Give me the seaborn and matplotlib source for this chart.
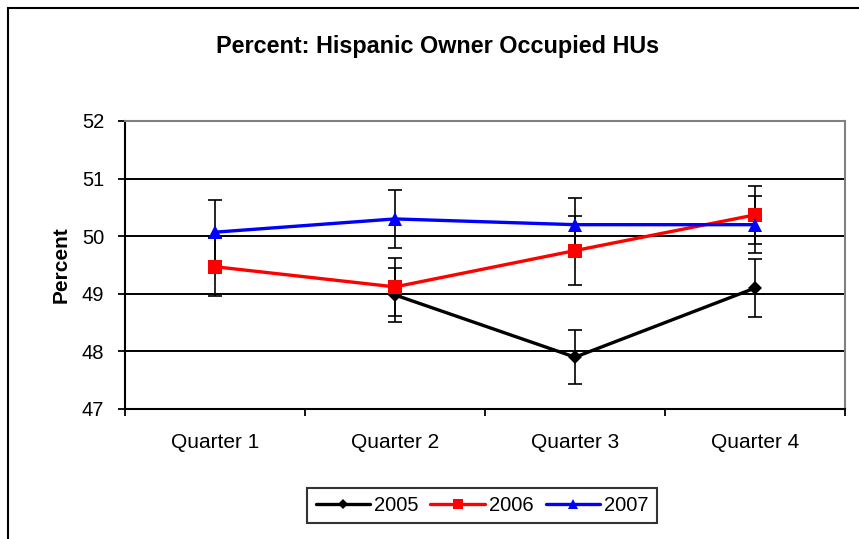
import numpy as np
import pandas as pd
import matplotlib
matplotlib.use("Agg")
import matplotlib.pyplot as plt
from matplotlib.patches import Rectangle
from matplotlib.ticker import FixedLocator
import seaborn as sns

# ---- data ----
quarters = ["Quarter 1", "Quarter 2", "Quarter 3", "Quarter 4"]
years = ["2005", "2006", "2007"]
pct_2005 = [np.nan, 48.98, 47.90, 49.10]
err_2005 = [np.nan, 0.47, 0.47, 0.50]
pct_2006 = [49.47, 49.12, 49.75, 50.37]
err_2006 = [0.50, 0.50, 0.60, 0.50]
pct_2007 = [50.07, 50.30, 50.20, 50.20]
err_2007 = [0.55, 0.50, 0.47, 0.50]
y_ticks = [47, 48, 49, 50, 51, 52]

values = {"2005": pct_2005, "2006": pct_2006, "2007": pct_2007}
errors = {"2005": err_2005, "2006": err_2006, "2007": err_2007}

rows = []
for yr in years:
    for i, q in enumerate(quarters):
        v = values[yr][i]
        if not np.isnan(v):
            rows.append({"pos": i, "quarter": q, "Year": yr, "Percent": v,
                         "err": errors[yr][i]})
df = pd.DataFrame(rows)

sns.set_style("white")
plt.rcParams["font.family"] = ["Liberation Sans", "DejaVu Sans"]
plt.rcParams["text.color"] = "black"
plt.rcParams["axes.labelcolor"] = "black"
plt.rcParams["xtick.color"] = "black"
plt.rcParams["ytick.color"] = "black"

fig = plt.figure(figsize=(8.59, 5.39), dpi=100)
W, H = 859, 539
ax = fig.add_axes([125 / W, 1 - 409 / H, 720 / W, 288 / H])

palette = {"2005": "black", "2006": "#ff0000", "2007": "#0000ff"}
markers = {"2005": "D", "2006": "s", "2007": "^"}

# error bars (behind markers)
for yr in years:
    sub = df[df["Year"] == yr]
    ax.errorbar(sub["pos"], sub["Percent"], yerr=sub["err"], fmt="none",
                ecolor="black", elinewidth=1.2, capsize=5, capthick=1.2,
                zorder=1.8)

sns.lineplot(data=df, x="pos", y="Percent", hue="Year", style="Year",
             hue_order=years, style_order=years, palette=palette,
             markers=markers, dashes=False, linewidth=2.4,
             markersize=9.5, markeredgewidth=0, ax=ax, zorder=2)
for line in ax.get_lines():
    if line.get_marker() == "D":
        line.set_markersize(7)

ax.set_xlim(-0.5, 3.5)
ax.set_ylim(47, 52)
ax.set_yticks(y_ticks)
ax.set_xticks(range(len(quarters)))
ax.set_xticklabels(quarters)
ax.xaxis.set_minor_locator(FixedLocator([-0.5, 0.5, 1.5, 2.5, 3.5]))
ax.tick_params(axis="x", which="major", length=0, pad=17.5, labelsize=15,
               colors="black")
ax.tick_params(axis="x", which="minor", length=5, width=1.3, color="black",
               direction="out", bottom=True)
ax.tick_params(axis="y", which="major", length=5, width=1.3, color="black",
               labelcolor="black", direction="out", left=True, pad=10,
               labelsize=14.5)

ax.grid(axis="y", color="black", linewidth=1.4)
ax.grid(axis="x", visible=False)
ax.set_axisbelow(True)

for s in ["left", "bottom"]:
    ax.spines[s].set_color("black")
    ax.spines[s].set_linewidth(1.5)
for s in ["top", "right"]:
    ax.spines[s].set_color("#808080")
    ax.spines[s].set_linewidth(1.5)

ax.set_xlabel("")
ax.set_ylabel("Percent", fontsize=15, fontweight="bold", labelpad=8,
              color="black")

fig.text(438 / W, 1 - 47 / H, "Percent: Hispanic Owner Occupied HUs",
         ha="center", va="center", fontsize=16.8, fontweight="bold",
         color="black")

sns.move_legend(ax, loc="center", bbox_to_anchor=(482 / W, 1 - 505.5 / H),
                bbox_transform=fig.transFigure, ncol=3, title=None,
                frameon=True, fancybox=False, fontsize=14.5,
                handlelength=2.7, handletextpad=0.2, columnspacing=0.6,
                borderpad=0.4, edgecolor="black")
leg = ax.get_legend()
leg.get_frame().set_linewidth(1.5)
for h in leg.legend_handles:
    h.set_linewidth(2.4)
    h.set_markersize(7 if h.get_marker() != "D" else 5.5)
for t in leg.get_texts():
    t.set_color("black")

# outer chart-area frame
fig.add_artist(Rectangle((8 / W, -0.2), 1.2, 1.2 - 8 / H,
                         transform=fig.transFigure, fill=False,
                         edgecolor="black", linewidth=1.5))

fig.savefig("out.png", dpi=100, facecolor="white")
